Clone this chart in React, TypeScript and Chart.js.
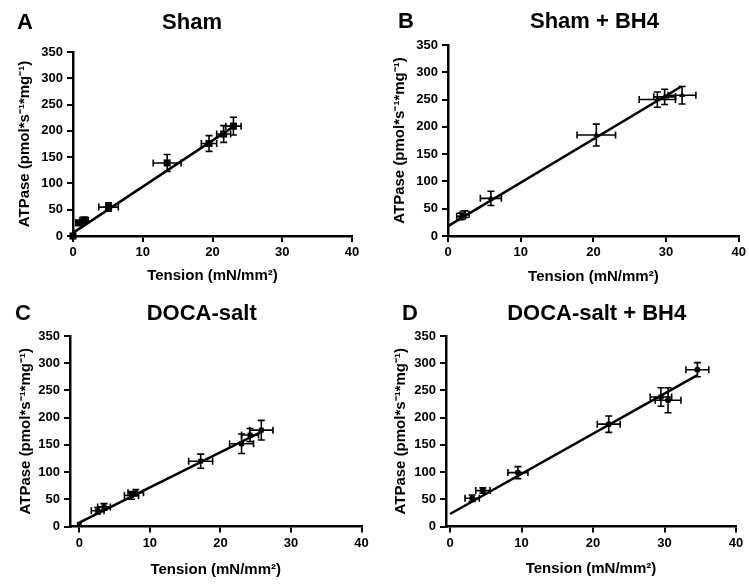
import React, { useEffect, useRef } from "react";
import { Chart, registerables } from "chart.js";

Chart.register(...registerables);

const FONT = "'Liberation Sans', Arial, Helvetica, sans-serif";

// Shared axis content
const xTickValues = [0, 10, 20, 30, 40];
const yTickValues = [0, 50, 100, 150, 200, 250, 300, 350];
const xAxisTitle = "Tension (mN/mm²)";
const yAxisTitle = "ATPase (pmol*s⁻¹*mg⁻¹)";

// Panel A — Sham
const shamTension = [0, 0.9, 1.6, 5.1, 13.5, 19.5, 21.6, 23.0];
const shamATPase = [0, 25, 30, 55, 139, 176, 194, 209];
const shamTensionErr = [0, 0.5, 0.6, 1.4, 2.0, 1.1, 1.0, 1.1];
const shamATPaseErr = [0, 5, 6, 8, 16, 15, 16, 17];
const shamFitX = [0, 23.0];
const shamFitY = [6, 208];

// Panel B — Sham + BH4
const shamBH4Tension = [1.8, 2.3, 5.9, 20.4, 28.8, 29.8, 32.2];
const shamBH4ATPase = [36, 40, 69, 185, 250, 255, 258];
const shamBH4TensionErr = [0.6, 0.6, 1.45, 2.65, 2.5, 1.5, 1.9];
const shamBH4ATPaseErr = [6, 6, 13, 20, 14, 14, 16];
const shamBH4FitX = [0, 32.1];
const shamBH4FitY = [18, 274];

// Panel C — DOCA-salt
const docaTension = [0, 2.6, 3.5, 7.4, 8.0, 17.2, 23.0, 24.2, 25.8];
const docaATPase = [4, 29, 36, 57, 62, 120, 152, 168, 177];
const docaTensionErr = [0, 0.9, 0.9, 1.0, 1.1, 1.7, 1.7, 1.2, 1.65];
const docaATPaseErr = [0, 6, 6, 7, 6, 13, 18, 12, 18];
const docaFitX = [0, 25.8];
const docaFitY = [7, 174];

// Panel D — DOCA-salt + BH4
const docaBH4Tension = [3.1, 4.6, 9.5, 22.2, 29.5, 30.5, 34.6];
const docaBH4ATPase = [52, 66, 99, 188, 238, 232, 288];
const docaBH4TensionErr = [1.0, 1.0, 1.4, 1.6, 1.5, 1.8, 1.6];
const docaBH4ATPaseErr = [6, 5, 11, 15, 17, 23, 13];
const docaBH4FitX = [0, 34.6];
const docaBH4FitY = [23, 278];

type Panel = {
  letter: string;
  title: string;
  xs: number[];
  ys: number[];
  xErr: number[];
  yErr: number[];
  fitX: number[];
  fitY: number[];
  xMin: number;
  pointStyle: string;
  pointRadius: number;
  box: { x: number; y: number; w: number; h: number };
  area: { l: number; r: number; t: number; b: number };
  letterX: number;
  titleX: number;
  textY: number;
  yTitleCenter: number;
  xTitleCenter: number;
};

const panels: Panel[] = [
  {
    letter: "A", title: "Sham",
    xs: shamTension, ys: shamATPase, xErr: shamTensionErr, yErr: shamATPaseErr,
    fitX: shamFitX, fitY: shamFitY, xMin: 0, pointStyle: "rect", pointRadius: 5,
    box: { x: 0, y: 0, w: 375, h: 292 },
    area: { l: 73, r: 352, t: 52, b: 236 },
    letterX: 17, titleX: 192, textY: 29, yTitleCenter: 25, xTitleCenter: 276,
  },
  {
    letter: "B", title: "Sham + BH4",
    xs: shamBH4Tension, ys: shamBH4ATPase, xErr: shamBH4TensionErr, yErr: shamBH4ATPaseErr,
    fitX: shamBH4FitX, fitY: shamBH4FitY, xMin: 0, pointStyle: "triangle", pointRadius: 3.5,
    box: { x: 375, y: 0, w: 374, h: 292 },
    area: { l: 73, r: 364, t: 45, b: 236 },
    letterX: 23, titleX: 219.5, textY: 28, yTitleCenter: 25, xTitleCenter: 277,
  },
  {
    letter: "C", title: "DOCA-salt",
    xs: docaTension, ys: docaATPase, xErr: docaTensionErr, yErr: docaATPaseErr,
    fitX: docaFitX, fitY: docaFitY, xMin: -1.32, pointStyle: "rect", pointRadius: 3.5,
    box: { x: 0, y: 292, w: 375, h: 293 },
    area: { l: 70, r: 361.5, t: 44, b: 234.5 },
    letterX: 15, titleX: 201.7, textY: 28, yTitleCenter: 26, xTitleCenter: 278,
  },
  {
    letter: "D", title: "DOCA-salt + BH4",
    xs: docaBH4Tension, ys: docaBH4ATPase, xErr: docaBH4TensionErr, yErr: docaBH4ATPaseErr,
    fitX: docaBH4FitX, fitY: docaBH4FitY, xMin: -0.56, pointStyle: "circle", pointRadius: 3,
    box: { x: 375, y: 292, w: 374, h: 293 },
    area: { l: 71, r: 361, t: 44, b: 234.5 },
    letterX: 27, titleX: 221.7, textY: 28, yTitleCenter: 26, xTitleCenter: 277,
  },
];

const errorBarPlugin = {
  id: "errorBars",
  afterDatasetsDraw(chart: any, _args: any, opts: any) {
    const { ctx } = chart;
    const xs = chart.scales.x;
    const ys = chart.scales.y;
    const data = chart.data.datasets[0].data as { x: number; y: number }[];
    const cap = 3.5;
    ctx.save();
    ctx.strokeStyle = "#000";
    ctx.lineWidth = 1.6;
    data.forEach((p, i) => {
      const px = xs.getPixelForValue(p.x);
      const py = ys.getPixelForValue(p.y);
      const ey = opts.yErr[i] || 0;
      const ex = opts.xErr[i] || 0;
      ctx.beginPath();
      if (ey > 0) {
        const t = ys.getPixelForValue(p.y + ey);
        const b = ys.getPixelForValue(p.y - ey);
        ctx.moveTo(px, t); ctx.lineTo(px, b);
        ctx.moveTo(px - cap, t); ctx.lineTo(px + cap, t);
        ctx.moveTo(px - cap, b); ctx.lineTo(px + cap, b);
      }
      if (ex > 0) {
        const l = xs.getPixelForValue(p.x - ex);
        const r = xs.getPixelForValue(p.x + ex);
        ctx.moveTo(l, py); ctx.lineTo(r, py);
        ctx.moveTo(l, py - cap); ctx.lineTo(l, py + cap);
        ctx.moveTo(r, py - cap); ctx.lineTo(r, py + cap);
      }
      ctx.stroke();
    });
    ctx.restore();
  },
};

const headingPlugin = {
  id: "panelHeading",
  afterDraw(chart: any, _args: any, opts: any) {
    const { ctx } = chart;
    ctx.save();
    ctx.fillStyle = "#000";
    ctx.font = `bold 22px ${FONT}`;
    ctx.textBaseline = "alphabetic";
    ctx.textAlign = "left";
    ctx.fillText(opts.letter, opts.letterX, opts.textY);
    ctx.textAlign = "center";
    ctx.fillText(opts.title, opts.titleX, opts.textY);
    ctx.restore();
  },
};

function PanelChart({ p }: { p: Panel }) {
  const ref = useRef<HTMLCanvasElement>(null);
  useEffect(() => {
    const W = p.box.w;
    const H = p.box.h;
    const yw = p.area.l;
    const xh = H - p.area.b;
    const tickFont = { family: FONT, size: 13, weight: "bold" as const };
    const titleFont = { family: FONT, size: 15, weight: "bold" as const };
    const chart = new Chart(ref.current as HTMLCanvasElement, {
      type: "scatter",
      data: {
        datasets: [
          {
            data: p.xs.map((x, i) => ({ x, y: p.ys[i] })),
            pointStyle: p.pointStyle as any,
            pointRadius: p.pointRadius,
            backgroundColor: "#000",
            borderColor: "#000",
            borderWidth: 0,
            clip: false as any,
          },
          {
            data: p.fitX.map((x, i) => ({ x, y: p.fitY[i] })),
            showLine: true,
            pointRadius: 0,
            borderColor: "#000",
            borderWidth: 2.5,
            clip: false as any,
          },
        ],
      },
      options: {
        responsive: false,
        animation: false,
        events: [],
        layout: { padding: { left: 0, top: p.area.t, right: W - p.area.r, bottom: 0 } },
        plugins: {
          legend: { display: false },
          tooltip: { enabled: false },
          title: { display: false },
          errorBars: { xErr: p.xErr, yErr: p.yErr },
          panelHeading: {
            letter: p.letter, title: p.title, letterX: p.letterX,
            titleX: p.titleX, textY: p.textY,
          },
        } as any,
        scales: {
          x: {
            type: "linear",
            min: p.xMin,
            max: 40,
            afterBuildTicks: (s: any) => { s.ticks = xTickValues.map((v) => ({ value: v })); },
            afterFit: (s: any) => { s.height = xh; },
            ticks: { color: "#000", font: tickFont, padding: 3, maxRotation: 0 },
            grid: { display: true, drawOnChartArea: false, drawTicks: true, tickLength: 6, color: "#000", lineWidth: 2 },
            border: { display: true, color: "#000", width: 2.5 },
            title: {
              display: true, text: xAxisTitle, color: "#000", font: titleFont,
              padding: { top: 0, bottom: H - 9 - p.xTitleCenter },
            },
          },
          y: {
            type: "linear",
            min: 0,
            max: 350,
            afterBuildTicks: (s: any) => { s.ticks = yTickValues.map((v) => ({ value: v })); },
            afterFit: (s: any) => { s.width = yw; },
            ticks: { color: "#000", font: tickFont, padding: 4 },
            grid: { display: true, drawOnChartArea: false, drawTicks: true, tickLength: 6, color: "#000", lineWidth: 2 },
            border: { display: true, color: "#000", width: 2.5 },
            title: {
              display: true, text: yAxisTitle, color: "#000", font: titleFont,
              padding: { top: p.yTitleCenter - 9, bottom: 0 },
            },
          },
        },
      },
      plugins: [errorBarPlugin, headingPlugin],
    } as any);
    return () => chart.destroy();
  }, [p]);
  return (
    <canvas
      ref={ref}
      width={p.box.w}
      height={p.box.h}
      style={{ position: "absolute", left: p.box.x, top: p.box.y, width: p.box.w, height: p.box.h }}
    />
  );
}

export default function App() {
  return (
    <div style={{ position: "absolute", left: 0, top: 0, width: 749, height: 585, background: "#fff", overflow: "hidden" }}>
      {panels.map((p) => (
        <PanelChart key={p.letter} p={p} />
      ))}
    </div>
  );
}
